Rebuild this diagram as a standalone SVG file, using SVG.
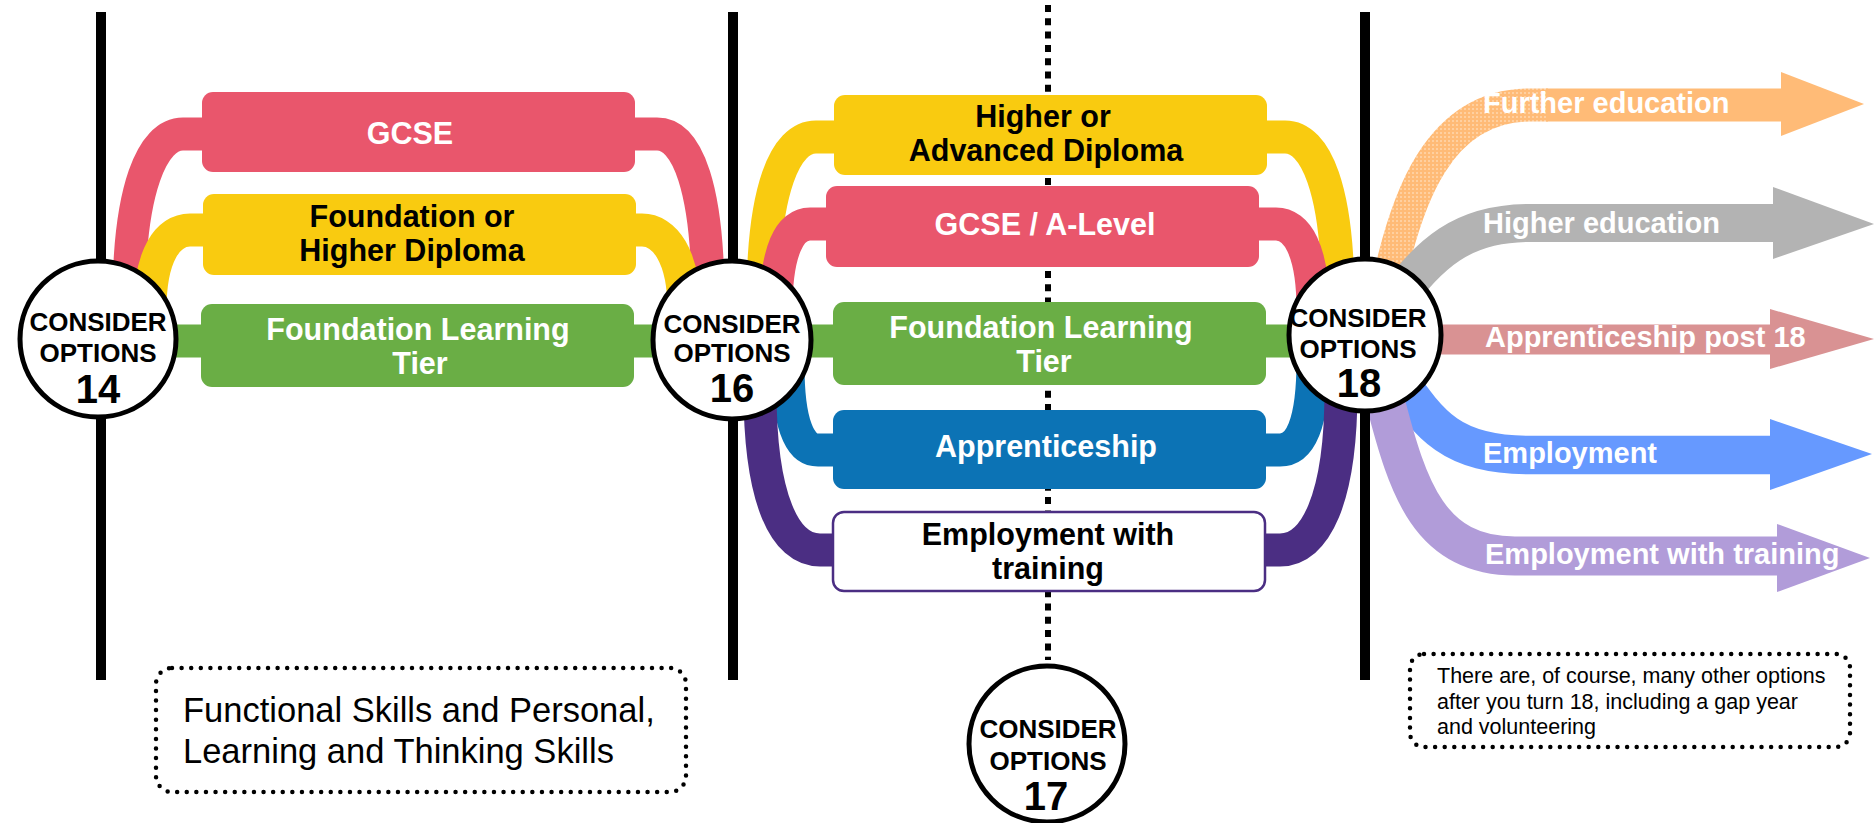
<svg xmlns="http://www.w3.org/2000/svg" width="1875" height="823" viewBox="0 0 1875 823">
<defs>
<style>
.band{fill:none;stroke-width:33;stroke-linecap:butt}
.bar{stroke:none}
.bt{font-family:"Liberation Sans",Arial,sans-serif;font-weight:bold;font-size:30.5px;text-anchor:middle}
.at{font-family:"Liberation Sans",Arial,sans-serif;font-weight:bold;font-size:29px;fill:#fff}
.ct{font-family:"Liberation Sans",Arial,sans-serif;font-weight:bold;font-size:26px;text-anchor:middle;fill:#000}
.cn{font-family:"Liberation Sans",Arial,sans-serif;font-weight:bold;font-size:40px;text-anchor:middle;fill:#000}
.circ{fill:#fff;stroke:#000;stroke-width:5}
.vline{stroke:#000;stroke-width:10}
.dots{fill:none;stroke:#000;stroke-width:4.5;stroke-linecap:round;stroke-dasharray:0 9.6}
.nt{font-family:"Liberation Sans",Arial,sans-serif;fill:#000}
</style>
<pattern id="tex" width="4" height="4" patternUnits="userSpaceOnUse"><rect width="4" height="4" fill="#FFBB77"/><rect width="2" height="2" fill="#FFD0A0"/></pattern>
</defs>
<rect width="1875" height="823" fill="#fff"/>

<line x1="1048" y1="5" x2="1048" y2="660" stroke="#000" stroke-width="6" stroke-dasharray="7 6.3"/>

<g id="connectors">
  <!-- left section -->
  <path class="band" stroke="#E9566C" d="M 215 134 H 183 C 152 134 129 190 129 300"/>
  <path class="band" stroke="#E9566C" d="M 620 134 H 657 C 688 134 708 190 708 300"/>
  <path class="band" stroke="#F9CB10" d="M 215 230 H 190 C 168 230 150 255 150 310"/>
  <path class="band" stroke="#F9CB10" d="M 620 230 H 642 C 664 230 684 255 684 310"/>
  <path class="band" stroke="#6AAE45" d="M 98 341 H 1365"/>
  <!-- middle section -->
  <path class="band" stroke="#F9CB10" d="M 850 137 H 816 C 785 137 763 190 763 300"/>
  <path class="band" stroke="#F9CB10" d="M 1250 137 H 1285 C 1316 137 1338 190 1338 300"/>
  <path class="band" stroke="#E9566C" d="M 840 224 H 810 C 790 224 776 250 776 310"/>
  <path class="band" stroke="#E9566C" d="M 1245 224 H 1276 C 1297 224 1313 250 1313 310"/>
  <path class="band" stroke="#0C73B5" d="M 850 450 H 818 C 800 450 788 425 788 365"/>
  <path class="band" stroke="#0C73B5" d="M 1250 450 H 1280 C 1300 450 1313 425 1313 360"/>
  <path class="band" stroke="#4B2E83" d="M 840 550 H 820 C 785 550 760 500 760 390"/>
  <path class="band" stroke="#4B2E83" d="M 1250 550 H 1280 C 1315 550 1341 500 1341 390"/>
  <!-- outputs at 18 -->
  <path fill="none" stroke="url(#tex)" stroke-width="33" d="M 1385 300 C 1405 195 1440 105 1530 105 H 1548"/>
  <path fill="none" stroke="#FFBB77" stroke-width="33" d="M 1546 105 H 1785"/>
  <polygon fill="#FFBB77" points="1781,72 1864,104 1781,136"/>
  <path fill="none" stroke="#B3B3B3" stroke-width="38" d="M 1395 300 C 1430 255 1460 223 1530 223 H 1778"/>
  <polygon fill="#B3B3B3" points="1773,187 1874,224 1773,259"/>
  <path fill="none" stroke="#D99293" stroke-width="30" d="M 1400 339.5 H 1775"/>
  <polygon fill="#D99293" points="1770,309 1874,339 1770,369"/>
  <path fill="none" stroke="#6699FF" stroke-width="38.5" d="M 1395 375 C 1430 425 1450 455 1530 455 H 1775"/>
  <polygon fill="#6699FF" points="1770,419 1872,454 1770,490"/>
  <path fill="none" stroke="#B19CD9" stroke-width="39" d="M 1385 400 C 1408 490 1430 556 1515 556 H 1782"/>
  <polygon fill="#B19CD9" points="1777,524 1870,558 1777,592"/>
</g>

<g id="timelines">
  <line class="vline" x1="101" y1="12" x2="101" y2="680"/>
  <line class="vline" x1="733" y1="12" x2="733" y2="680"/>
  <line class="vline" x1="1365" y1="12" x2="1365" y2="680"/>
</g>

<g id="node-gcse">
  <rect class="bar" x="202" y="92" width="433" height="80" rx="11" fill="#E9566C"/>
  <text class="bt" x="410" y="144" fill="#fff">GCSE</text>
</g>
<g id="node-diploma14">
  <rect class="bar" x="203" y="194" width="433" height="81" rx="11" fill="#F9CB10"/>
  <text class="bt" x="412" y="227" fill="#000">Foundation or</text>
  <text class="bt" x="412" y="261" fill="#000">Higher Diploma</text>
</g>
<g id="node-flt14">
  <rect class="bar" x="201" y="304" width="433" height="83" rx="11" fill="#6AAE45"/>
  <text class="bt" x="418" y="340" fill="#fff">Foundation Learning</text>
  <text class="bt" x="420" y="374" fill="#fff">Tier</text>
</g>

<g id="node-diploma16">
  <rect class="bar" x="834" y="95" width="433" height="80" rx="11" fill="#F9CB10"/>
  <text class="bt" x="1043" y="127" fill="#000">Higher or</text>
  <text class="bt" x="1046" y="161" fill="#000">Advanced Diploma</text>
</g>
<g id="node-alevel">
  <rect class="bar" x="826" y="186" width="433" height="81" rx="11" fill="#E9566C"/>
  <text class="bt" x="1045" y="235" fill="#fff">GCSE / A-Level</text>
</g>
<g id="node-flt16">
  <rect class="bar" x="833" y="302" width="433" height="83" rx="11" fill="#6AAE45"/>
  <text class="bt" x="1041" y="338" fill="#fff">Foundation Learning</text>
  <text class="bt" x="1044" y="372" fill="#fff">Tier</text>
</g>
<g id="node-apprenticeship">
  <rect class="bar" x="833" y="410" width="433" height="79" rx="11" fill="#0C73B5"/>
  <text class="bt" x="1046" y="457" fill="#fff">Apprenticeship</text>
</g>
<g id="node-employment">
  <rect x="833" y="512" width="432" height="79" rx="11" fill="#fff" stroke="#4B2E83" stroke-width="2.5"/>
  <text class="bt" x="1048" y="545" fill="#000">Employment with</text>
  <text class="bt" x="1048" y="579" fill="#000">training</text>
</g>

<g id="node-options14">
  <circle class="circ" cx="98" cy="339" r="78"/>
  <text class="ct" x="98" y="331">CONSIDER</text>
  <text class="ct" x="98" y="362">OPTIONS</text>
  <text class="cn" x="98" y="403">14</text>
</g>
<g id="node-options16">
  <circle class="circ" cx="732" cy="340" r="79"/>
  <text class="ct" x="732" y="333">CONSIDER</text>
  <text class="ct" x="732" y="362">OPTIONS</text>
  <text class="cn" x="732" y="402">16</text>
</g>
<g id="node-options18">
  <circle class="circ" cx="1365" cy="335" r="76"/>
  <text class="ct" x="1358" y="327">CONSIDER</text>
  <text class="ct" x="1358" y="358">OPTIONS</text>
  <text class="cn" x="1359" y="397">18</text>
</g>
<g id="node-options17">
  <circle class="circ" cx="1047" cy="744" r="78"/>
  <text class="ct" x="1048" y="738">CONSIDER</text>
  <text class="ct" x="1048" y="770">OPTIONS</text>
  <text class="cn" x="1046" y="810">17</text>
</g>

<g id="labels-18">
  <text class="at" x="1483" y="113">Further education</text>
  <text class="at" x="1483" y="233">Higher education</text>
  <text class="at" x="1485" y="347">Apprenticeship post 18</text>
  <text class="at" x="1483" y="463">Employment</text>
  <text class="at" x="1485" y="564">Employment with training</text>
</g>

<g id="note-skills">
  <rect class="dots" x="156" y="668" width="530" height="124" rx="16"/>
  <text class="nt" x="183" y="722" font-size="34.5">Functional Skills and Personal,</text>
  <text class="nt" x="183" y="763" font-size="34.5">Learning and Thinking Skills</text>
</g>
<g id="note-other">
  <rect class="dots" x="1410" y="654" width="440" height="93" rx="14"/>
  <text class="nt" x="1437" y="683" font-size="21.5">There are, of course, many other options</text>
  <text class="nt" x="1437" y="708.5" font-size="21.5">after you turn 18, including a gap year</text>
  <text class="nt" x="1437" y="734" font-size="21.5">and volunteering</text>
</g>
</svg>
